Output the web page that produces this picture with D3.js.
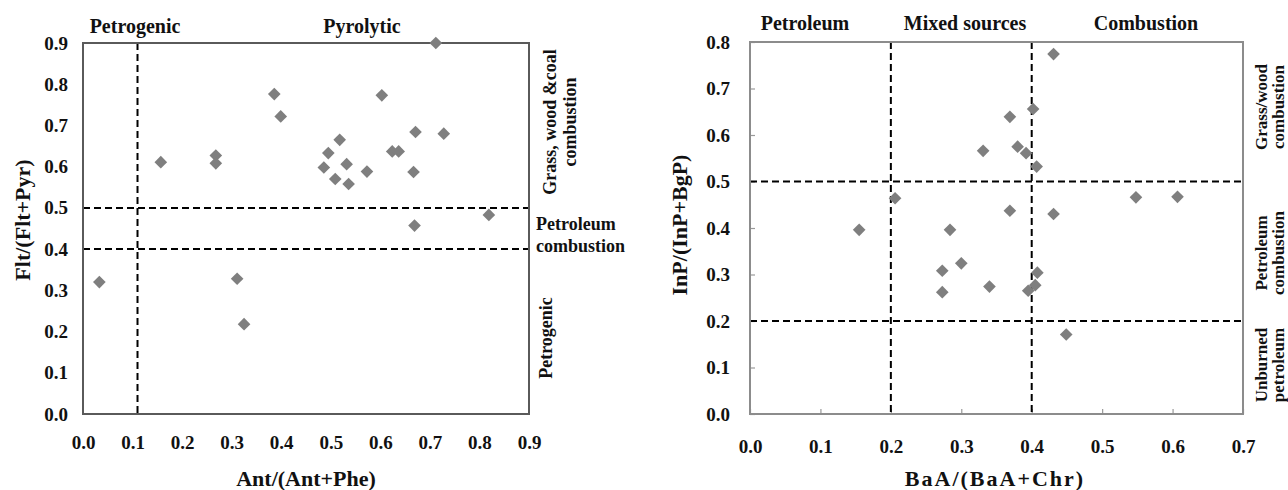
<!DOCTYPE html>
<meta charset="UTF-8">
<style>
    body { margin: 0; background: #fff; }
    text { font-family: "Liberation Serif", "Times New Roman", serif; font-weight: bold; fill: #111; }
    .frame { fill: none; }
    .cut { stroke: #000; stroke-width: 2px; stroke-dasharray: 7,4; fill: none; }
</style>
<body>
<div id="chart"></div>
<script src="https://d3js.org/d3.v7.min.js"></script>
<script>

// left panel: Ant/(Ant+Phe) vs Flt/(Flt+Pyr)
var antRatio = [0.033, 0.157, 0.268, 0.268, 0.311, 0.325, 0.386, 0.399, 0.486, 0.495, 0.509, 0.518,
                0.532, 0.536, 0.573, 0.603, 0.624, 0.637, 0.667, 0.671, 0.669, 0.712, 0.728, 0.819];
var fltRatio = [0.320, 0.611, 0.627, 0.608, 0.328, 0.218, 0.776, 0.722, 0.598, 0.633, 0.570, 0.665,
                0.606, 0.558, 0.588, 0.773, 0.637, 0.637, 0.587, 0.684, 0.457, 0.900, 0.680, 0.483];
var leftTicksX = [0, 0.1, 0.2, 0.3, 0.4, 0.5, 0.6, 0.7, 0.8, 0.9];
var leftTicksY = [0, 0.1, 0.2, 0.3, 0.4, 0.5, 0.6, 0.7, 0.8, 0.9];
var leftCutsX = [0.11];
var leftCutsY = [0.4, 0.5];

// right panel: BaA/(BaA+Chr) vs InP/(InP+BgP)
var baaRatio = [0.155, 0.206, 0.273, 0.273, 0.284, 0.300, 0.331, 0.340, 0.369, 0.369, 0.380, 0.392,
                0.395, 0.402, 0.405, 0.407, 0.408, 0.431, 0.431, 0.449, 0.548, 0.607];
var inpRatio = [0.396, 0.464, 0.308, 0.262, 0.396, 0.324, 0.566, 0.274, 0.639, 0.437, 0.575, 0.561,
                0.265, 0.656, 0.277, 0.532, 0.304, 0.774, 0.430, 0.171, 0.466, 0.467];
var rightTicksX = [0, 0.1, 0.2, 0.3, 0.4, 0.5, 0.6, 0.7];
var rightTicksY = [0, 0.1, 0.2, 0.3, 0.4, 0.5, 0.6, 0.7, 0.8];
var rightCutsX = [0.2, 0.4];
var rightCutsY = [0.2, 0.5];

var svg = d3.select("#chart").append("svg")
    .attr("width", 1288)
    .attr("height", 490);

var fmt = d3.format(".1f");
var diamond = d3.symbol().type(d3.symbolSquare).size(80);

function panel(o) {
    var x = d3.scaleLinear().domain(o.xDomain).range([o.left, o.right]);
    var y = d3.scaleLinear().domain(o.yDomain).range([o.bottom, o.top]);
    var g = svg.append("g");

    // tick labels
    g.append("g")
        .attr("transform", "translate(0," + o.bottom + ")")
        .call(d3.axisBottom(x).tickValues(o.ticksX).tickFormat(fmt)
              .tickSizeInner(o.inner ? -5 : 0).tickSizeOuter(0).tickPadding(o.padX))
        .call(function(a) {
            a.select(".domain").remove();
            a.selectAll("line").attr("stroke", "#999").attr("stroke-width", 1.2);
            a.selectAll("text").style("font-size", "19px").attr("fill", "#111");
        });
    g.append("g")
        .attr("transform", "translate(" + o.left + ",0)")
        .call(d3.axisLeft(y).tickValues(o.ticksY).tickFormat(fmt)
              .tickSizeInner(o.inner ? -5 : 0).tickSizeOuter(0).tickPadding(o.padY))
        .call(function(a) {
            a.select(".domain").remove();
            a.selectAll("line").attr("stroke", "#999").attr("stroke-width", 1.2);
            a.selectAll("text").style("font-size", "19px").attr("fill", "#111");
        });

    // dashed source boundaries
    o.cutsX.forEach(function(v) {
        g.append("line").attr("class", "cut")
            .attr("x1", x(v)).attr("x2", x(v)).attr("y1", o.top).attr("y2", o.bottom);
    });
    o.cutsY.forEach(function(v) {
        g.append("line").attr("class", "cut")
            .attr("x1", o.left).attr("x2", o.right).attr("y1", y(v)).attr("y2", y(v));
    });

    // frame
    g.append("rect").attr("class", "frame")
        .attr("x", o.left).attr("y", o.top)
        .attr("width", o.right - o.left).attr("height", o.bottom - o.top)
        .attr("stroke", o.frameColor).attr("stroke-width", 2);

    // points
    g.selectAll(".pt")
        .data(o.xs)
        .enter().append("path")
        .attr("class", "pt")
        .attr("d", diamond)
        .attr("fill", "#7f7f7f")
        .attr("transform", function(d, i) {
            return "translate(" + x(d) + "," + y(o.ys[i]) + ") rotate(45)";
        });

    return {x: x, y: y, g: g};
}

function label(g, txt, px, py, size, rot, anchor, spacing) {
    var t = g.append("text")
        .attr("transform", "translate(" + px + "," + py + ")" + (rot ? " rotate(" + rot + ")" : ""))
        .attr("text-anchor", anchor || "middle")
        .attr("dy", "0.35em")
        .style("font-size", size + "px")
        .text(txt);
    if (spacing) t.style("letter-spacing", spacing + "px");
    return t;
}

var L = panel({
    xDomain: [0, 0.9], yDomain: [0, 0.9],
    left: 83, right: 529, top: 43, bottom: 414,
    ticksX: leftTicksX, ticksY: leftTicksY,
    cutsX: leftCutsX, cutsY: leftCutsY,
    xs: antRatio, ys: fltRatio,
    frameColor: "#5a5a5a", inner: false, padX: 22, padY: 15
});

label(L.g, "Petrogenic", 135, 26, 20);
label(L.g, "Pyrolytic", 362, 26, 20);
label(L.g, "Ant/(Ant+Phe)", 306, 478, 22);
label(L.g, "Flt/(Flt+Pyr)", 22, 220, 22, -90);
label(L.g, "Grass, wood &coal", 550, 122, 18, -90);
label(L.g, "combustion", 570, 122, 18, -90);
label(L.g, "Petroleum", 536, 224, 18, 0, "start");
label(L.g, "combustion", 536, 246, 18, 0, "start");
label(L.g, "Petrogenic", 546, 338, 18, -90);

var R = panel({
    xDomain: [0, 0.7], yDomain: [0, 0.8],
    left: 750, right: 1243, top: 42, bottom: 414,
    ticksX: rightTicksX, ticksY: rightTicksY,
    cutsX: rightCutsX, cutsY: rightCutsY,
    xs: baaRatio, ys: inpRatio,
    frameColor: "#8c8c8c", inner: true, padX: 26, padY: 20
});

label(R.g, "Petroleum", 805, 23, 20);
label(R.g, "Mixed sources", 965, 23, 20);
label(R.g, "Combustion", 1146, 23, 20);
label(R.g, "BaA/(BaA+Chr)", 995, 478, 22, 0, "middle", 2);
label(R.g, "InP/(InP+BgP)", 679, 225, 22, -90);
label(R.g, "Grass/wood", 1261, 107, 17, -90);
label(R.g, "combustion", 1278, 107, 17, -90);
label(R.g, "Petroleum", 1261, 253, 17, -90);
label(R.g, "combustion", 1278, 253, 17, -90);
label(R.g, "Unburned", 1261, 365, 17, -90);
label(R.g, "petroleum", 1278, 365, 17, -90);

</script>
</body>
